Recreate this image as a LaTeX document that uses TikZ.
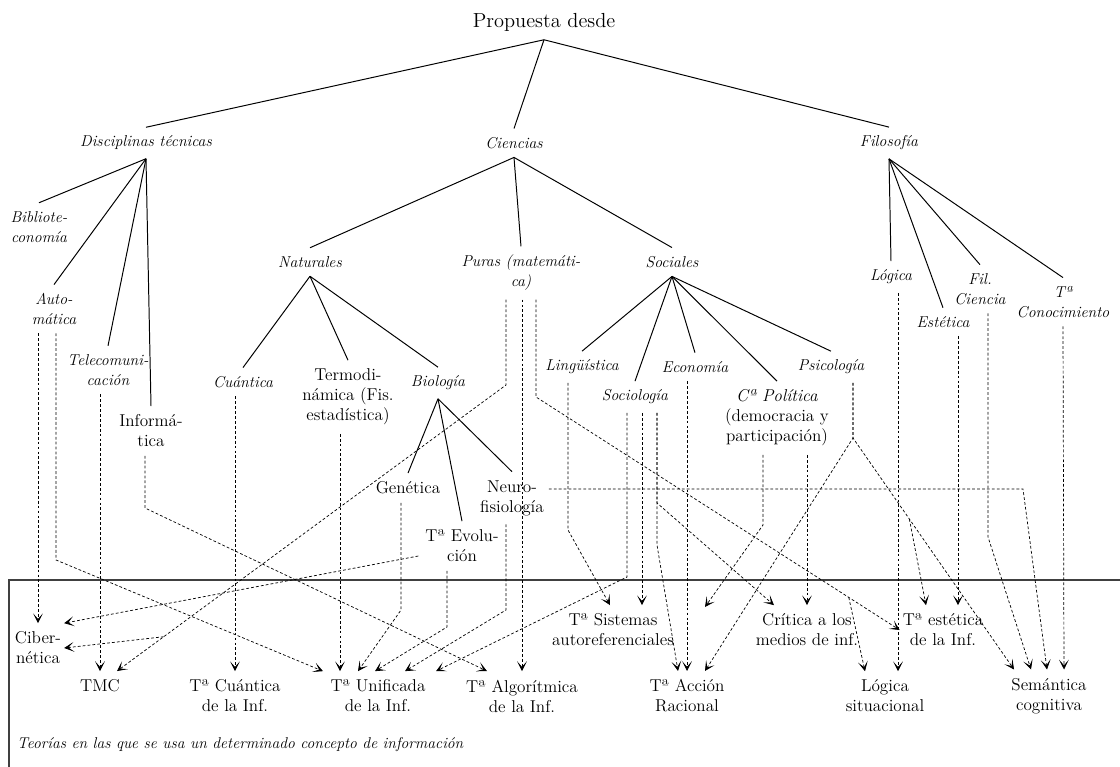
\documentclass[tikz,border=0pt]{standalone}
\usepackage{fontspec}
\usetikzlibrary{arrows.meta,calc}

\begin{document}
\begin{tikzpicture}[x=0.025cm, y=-0.025cm,
    >={Stealth[length=7pt,width=7pt,inset=4pt]},
    lab/.style={align=center, inner xsep=2pt, inner ysep=6pt,
                font=\fontsize{12.2}{14.2}\selectfont},
    ital/.style={lab, font=\fontsize{11.2}{14.2}\selectfont\itshape},
    tree/.style={-, line width=0.7pt},
    dep/.style={->, line width=0.5pt, dash pattern=on 2pt off 1.5pt},
    frame/.style={line width=0.8pt, black!75}
    ]

    \useasboundingbox (0,0) rectangle (1120,767);

    \node[lab, font=\fontsize{14.5}{16}\selectfont] (top) at (544,22) {Propuesta desde};
    \node[ital] (dis) at (146,143) {Disciplinas técnicas};
    \node[ital] (cie) at (514,143) {Ciencias};
    \node[ital] (fil) at (889,143) {Filosofía};

    % disciplinas
    \node[ital] (bib) at (39,227) {Bibliote-\\conomía};
    \node[ital] (aut) at (54,309) {Auto-\\mática};
    \node[ital] (tel) at (108,370) {Telecomuni-\\cación};
    \node[lab] (inf) at (151,431) {Informá-\\tica};

    % ciencias
    \node[ital] (nat) at (310,262) {Naturales};
    \node[ital] (pur) at (521,273) {Puras (matemáti-\\ca)};
    \node[ital] (soc) at (672,262) {Sociales};
    \node[ital] (cua) at (243,382) {Cuántica};
    \node[lab] (ter) at (348,397) {Termodi-\\námica (Fis.\\estadística)};
    \node[ital] (bio) at (438,383) {Biología};
    \node[lab] (gen) at (408,488) {Genética};
    \node[lab] (evo) at (462,546) {Tª Evolu-\\ción};
    \node[lab] (neu) at (512,498) {Neuro-\\fisiología};
    \node[ital] (lin) at (582,367) {Lingüística};
    \node[ital] (sci) at (635,397) {Sociología};
    \node[ital] (eco) at (695,367) {Economía};
    \node[lab] (pol) at (777,418) {\textit{Cª Política}\\(democracia y\\participación)};
    \node[ital] (psi) at (831,367) {Psicología};

    % filosofia
    \node[ital] (log) at (891,277) {Lógica};
    \node[ital] (est) at (943,322) {Estética};
    \node[ital] (fcc) at (980,289) {Fil.\\Ciencia};
    \node[ital] (con) at (1063,302) {Tª\\Conocimiento};

    % teorias
    \draw[frame] (9,767) -- (9,580) -- (1120,580);
    \node[lab] (cib) at (38,648) {Ciber-\\nética};
    \node[lab] (tmc) at (100,686) {TMC};
    \node[lab] (tcu) at (235,696) {Tª Cuántica\\de la Inf.};
    \node[lab] (tun) at (378,696) {Tª Unificada\\de la Inf.};
    \node[lab] (tal) at (522,696) {Tª Algorítmica\\de la Inf.};
    \node[lab] (tsi) at (613,630) {Tª Sistemas\\autoreferenciales};
    \node[lab] (tac) at (687,696) {Tª Acción\\Racional};
    \node[lab] (cri) at (807,630) {Crítica a los\\medios de inf.};
    \node[lab] (tes) at (943,630) {Tª estética\\de la Inf.};
    \node[lab] (lsi) at (885,696) {Lógica\\situacional};
    \node[lab] (sem) at (1049,696) {Semántica\\cognitiva};
    \node[ital, font=\fontsize{11.1}{14}\selectfont\itshape, anchor=west] (teo) at (14,745)
        {Teorías en las que se usa un determinado concepto de información};
    \coordinate (polend) at (705,607);

    \path
    (top.south) edge [tree] (dis.north)
    (top.south) edge [tree] (cie.north)
    (top.south) edge [tree] (fil.north)
    (dis.south) edge [tree] (bib.north)
    (dis.south) edge [tree] (aut.north)
    (dis.south) edge [tree] (tel.north)
    (dis.south) edge [tree] (inf.north)
    (cie.south) edge [tree] (nat.north)
    (cie.south) edge [tree] (pur.north)
    (cie.south) edge [tree] (soc.north)
    (nat.south) edge [tree] (cua.north)
    (nat.south) edge [tree] (ter.north)
    (nat.south) edge [tree] (bio.north)
    (bio.south) edge [tree] (gen.north)
    (bio.south) edge [tree] (evo.north)
    (bio.south) edge [tree] (neu.north)
    (soc.south) edge [tree] (lin.north)
    (soc.south) edge [tree] (sci.north)
    (soc.south) edge [tree] (eco.north)
    (soc.south) edge [tree] (pol.north)
    (soc.south) edge [tree] (psi.north)
    (fil.south) edge [tree] (log.north)
    (fil.south) edge [tree] (est.north)
    (fil.south) edge [tree] (fcc.north)
    (fil.south) edge [tree] (con.north);

    % dashed links
    \draw[dep] (aut.south -| cib.north) -- (cib.north);
    \draw[dep] ($(aut.south)+(2,0)$) -- (56,560) -- ($(tun.north)+(-55,0)$);
    \draw[dep] (tel.south -| tmc.north) -- (tmc.north);
    \draw[dep] ($(inf.south)+(-6,0)$) -- (145,508) -- ($(tal.north)+(-35,0)$);
    \draw[dep] (cua.south -| tcu.north) -- (tcu.north);
    \draw[dep] ($(ter.south)+(-8,0)$) -- ($(tun.north)+(-38,0)$);
    \draw[dep] ($(gen.south)+(-7,0)$) -- (401,610) -- ($(tun.north)+(-20,0)$);
    \draw[dep] ($(evo.south)+(-15,0)$) -- (447,627) -- ($(tun.north)+(-3,0)$);
    \draw[dep] ($(evo.west)+(-4,10)$) -- (cib.north east);
    \draw[dep] ($(neu.south)+(-6,0)$) -- (506,610) -- ($(tun.north)+(27,0)$);
    \draw[dep] ($(neu.east)+(2,-9)$) -- (1023,489) -- ($(sem.north)+(-2,0)$);
    \draw[dep] ($(pur.south)+(-15,0)$) -- (506,385)
        -- coordinate[pos=0.88] (pcb) ($(tmc.north)+(17,0)$);
    \draw[dep] (pcb) -- (cib.east);
    \draw[dep] (pur.south -| tal.north) -- (tal.north);
    \draw[dep] ($(pur.south)+(15,0)$) -- (536,397)
        -- coordinate[pos=0.86] (pls) (tes.west);
    \draw[dep] (pls) -- ($(lsi.north)+(-20,0)$);
    \draw[dep] ($(lin.south)+(-14,0)$) -- (568,530) -- ($(tsi.north)+(-3,0)$);
    \draw[dep] ($(sci.south)+(-8,0)$) -- (627,577) -- ($(tun.north)+(58,0)$);
    \draw[dep] ($(sci.south)+(7,0)$) -- ($(tsi.north)+(29,0)$);
    \draw[dep] ($(sci.south)+(22,0)$) -- (657,503) -- ($(cri.north)+(-33,0)$);
    \draw[dep] ($(sci.south)+(22,0)$) -- (657,545) -- ($(tac.north)+(-9,0)$);
    \draw[dep] (eco.south -| tac.north) -- (tac.north);
    \draw[dep] ($(pol.south)+(-14,0)$) -- (763,525) -- (polend);
    \draw[dep] (pol.south -| cri.north) -- (cri.north);
    \draw[dep] ($(psi.south)+(22,0)$) -- (853,438) -- ($(tac.north)+(18,0)$);
    \draw[dep] ($(psi.south)+(22,0)$) -- (853,438)
        -- coordinate[pos=0.35] (pse) ($(sem.north)+(-35,0)$);
    \draw[dep] (pse) -- ($(tes.north)+(-17,0)$);
    \draw[dep] ($(log.south)+(7,0)$) -- ($(lsi.north)+(13,0)$);
    \draw[dep] ($(est.south)+(15,0)$) -- ($(tes.north)+(15,0)$);
    \draw[dep] ($(fcc.south)+(8,0)$) -- (988,537) -- ($(sem.north)+(-18,0)$);
    \draw[dep] (con.south) -- ($(sem.north)+(15,0)$);

\end{tikzpicture}
\end{document}
